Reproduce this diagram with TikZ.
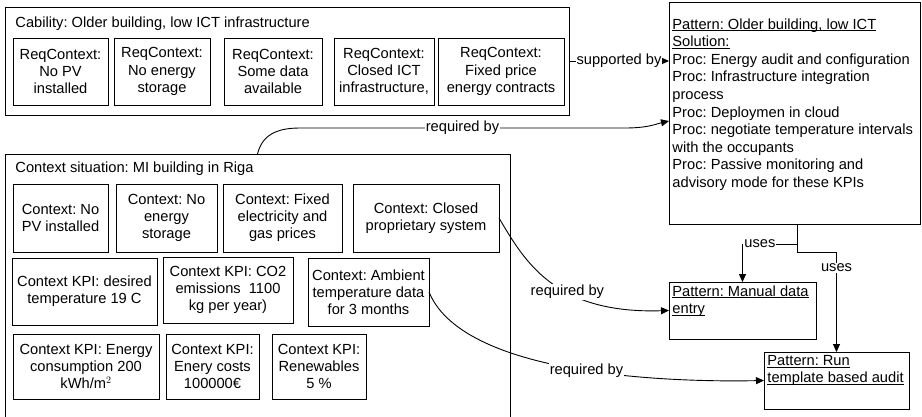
\documentclass[tikz,border=0pt]{standalone}
\usepackage{fontspec}
\setmainfont{Liberation Sans}
\usetikzlibrary{arrows.meta}
\frenchspacing
\newcommand{\uln}[1]{\setbox0\hbox{#1}\rlap{\rule[-2.2pt]{\wd0}{0.9pt}}\box0}
\tikzset{every picture/.style={x=1pt,y=-1pt,line width=0.9pt}}
\tikzset{every node/.style={font=\fontsize{14.67}{17.2}\selectfont}}
\tikzset{box/.style={draw,anchor=north west,align=center,inner sep=1pt,outer sep=0pt}}
\tikzset{heading/.style={anchor=base west,inner sep=0pt}}
\tikzset{ptext/.style={anchor=north west,align=left,inner sep=3pt}}
\tikzset{edge/.style={-{Triangle[length=8pt,width=7pt]}}}
\tikzset{lbl/.style={fill=white,inner sep=1pt}}

\begin{document}
\begin{tikzpicture}
\useasboundingbox (0,0) rectangle (922,417);

\node [box,minimum width=564,minimum height=108] (cap) at (5,7) {};
\node [heading] (capttl) at (15,28) {Cability: Older building, low ICT infrastructure};
\node [box,minimum width=95,minimum height=67] (rc1) at (13,38) {ReqContext:\\No PV\\installed};
\node [box,minimum width=96,minimum height=67] (rc2) at (114,38) {ReqContext:\\No energy\\storage};
\node [box,minimum width=98,minimum height=67] (rc3) at (224,38) {ReqContext:\\Some data\\available};
\node [box,minimum width=100,minimum height=67] (rc4) at (334,38) {ReqContext:\\Closed ICT\\infrastructure,};
\node [box,minimum width=126,minimum height=67] (rc5) at (438,38) {ReqContext:\\Fixed price\\energy contracts};

\node [box,minimum width=505,minimum height=280] (sit) at (5,154) {};
\node [heading] (sitttl) at (15,173) {Context situation: MI building in Riga};
\node [box,minimum width=95,minimum height=68] (c1) at (13,184) {Context: No\\PV installed};
\node [box,minimum width=101,minimum height=68] (c2) at (116,184) {Context: No\\energy\\storage};
\node [box,minimum width=119,minimum height=68] (c3) at (223,184) {Context: Fixed\\electricity and\\gas prices};
\node [box,minimum width=146,minimum height=68] (c4) at (353,184) {Context: Closed\\proprietary system};
\node [box,minimum width=145,minimum height=67] (k1) at (12,258) {Context KPI: desired\\temperature 19 C};
\node [box,minimum width=130,minimum height=66] (k2) at (163,257) {Context KPI: CO2\\emissions\ \ 1100\\kg per year)};
\node [box,minimum width=121,minimum height=68] (c5) at (308,258) {Context: Ambient\\temperature data\\for 3 months};
\node [box,minimum width=146,minimum height=65] (k3) at (13,334) {Context KPI: Energy\\consumption 200\\kWh/m$^2$};
\node [box,minimum width=93,minimum height=65] (k4) at (166,334) {Context KPI:\\Enery costs\\100000€};
\node [box,minimum width=94,minimum height=65] (k5) at (272,334) {Context KPI:\\Renewables\\5 \%};

\node [box,minimum width=251,minimum height=222] (pat) at (669,2) {};
\node [ptext,font=\fontsize{14.67}{17.6}\selectfont] (pattxt) at ([yshift=-13pt]pat.north west) {\uln{Pattern: Older building, low ICT}\\\uln{Solution:}\\Proc: Energy audit and configuration\\Proc: Infrastructure integration\\process\\Proc: Deploymen in cloud\\Proc: negotiate temperature intervals\\with the occupants\\Proc: Passive monitoring and\\advisory mode for these KPIs};
\node [box,minimum width=147,minimum height=57] (man) at (669,282) {};
\node [ptext] (mantxt) at (man.north west) {\uln{Pattern: Manual data}\\\uln{entry}};
\node [box,minimum width=145,minimum height=57] (run) at (764,352) {};
\node [ptext] (runtxt) at (run.north west) {\uln{Pattern: Run}\\\uln{template based audit}};

\draw [edge] (cap.east) -- node [lbl] {supported by} (cap.east -| pat.west);
\draw [edge] (sit.north) .. controls (262,136) and (275,128) .. (300,128) -- node [lbl] {required by} (625,128) .. controls (648,128) and (656,124) .. ([yshift=-8pt]pat.west);
\draw [edge] (c4.east) .. controls (525,262) and (555,314) .. node [lbl,pos=0.6] {required by} (man.west);
\draw [edge] (c5.east) .. controls (465,380) and (690,382) .. node [lbl,pos=0.51] {required by} (run.west);

\coordinate (fork) at (797,244);
\draw [edge] (pat.south -| fork) -- (fork) -| node [lbl,pos=0.34] {uses} (man.north);
\draw [edge] (fork) -- ++(0,8) -| node [lbl,pos=0.58] {uses} (run.north);
\end{tikzpicture}
\end{document}
